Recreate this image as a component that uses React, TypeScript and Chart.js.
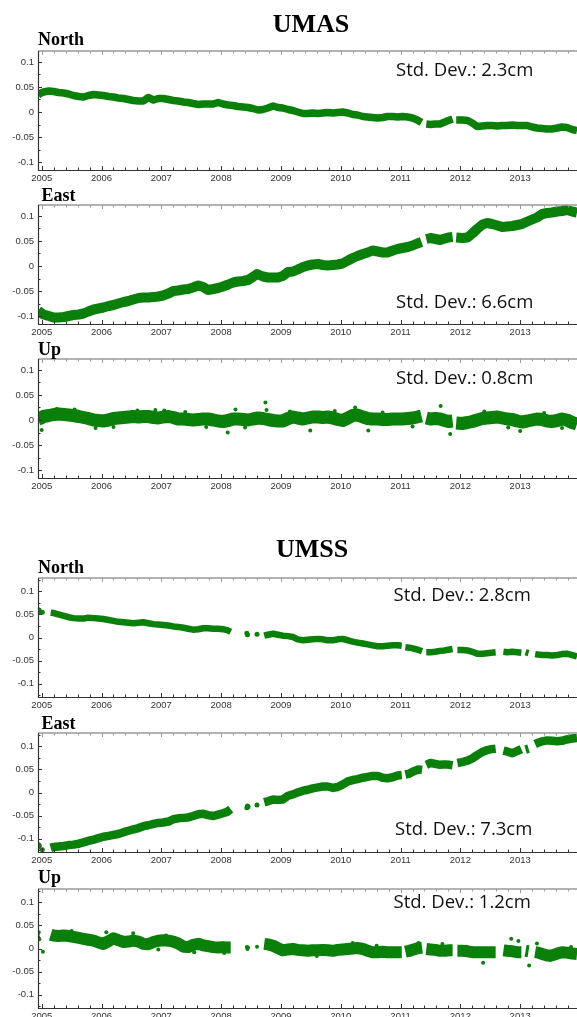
import React, { useEffect, useRef } from 'react';
import { Chart, registerables } from 'chart.js';
Chart.register(...registerables);

type Pt = [number, number | null];

const X_TICKS = [2005, 2006, 2007, 2008, 2009, 2010, 2011, 2012, 2013];
const Y_TICKS = [-0.1, -0.05, 0, 0.05, 0.1];
const Y_TICK_LABELS = ['-0.1', '-0.05', '0', '0.05', '0.1'];
const X_MIN = 2004.938;
const X_MAX = 2013.95;

const UMAS_NORTH: Pt[] = [
  [2004.94, 0.034], [2004.99, 0.038], [2005.03, 0.040], [2005.12, 0.042], [2005.20, 0.041], [2005.28, 0.039], [2005.37, 0.038], [2005.45, 0.036], [2005.53, 0.033], [2005.62, 0.031], [2005.70, 0.030], [2005.78, 0.033], [2005.87, 0.035], [2005.95, 0.034],
  [2006.03, 0.033], [2006.12, 0.031], [2006.20, 0.030], [2006.28, 0.028], [2006.37, 0.027], [2006.45, 0.025], [2006.53, 0.023], [2006.62, 0.022], [2006.70, 0.022], [2006.78, 0.029], [2006.87, 0.024], [2006.95, 0.027],
  [2007.03, 0.027], [2007.12, 0.025], [2007.20, 0.023], [2007.28, 0.022], [2007.37, 0.020], [2007.45, 0.019], [2007.53, 0.017], [2007.62, 0.015], [2007.70, 0.016], [2007.78, 0.016], [2007.87, 0.016], [2007.95, 0.019],
  [2008.03, 0.016], [2008.12, 0.014], [2008.20, 0.013], [2008.28, 0.011], [2008.37, 0.010], [2008.45, 0.009], [2008.53, 0.007], [2008.62, 0.004], [2008.70, 0.005], [2008.78, 0.008], [2008.87, 0.012], [2008.95, 0.009],
  [2009.03, 0.008], [2009.12, 0.005], [2009.20, 0.003], [2009.28, 0.000], [2009.37, -0.003], [2009.45, -0.003], [2009.53, -0.002], [2009.62, -0.003], [2009.70, -0.002], [2009.78, -0.001], [2009.87, -0.002], [2009.95, -0.001],
  [2010.03, 0.000], [2010.12, -0.002], [2010.20, -0.005], [2010.28, -0.006], [2010.37, -0.009], [2010.45, -0.010], [2010.53, -0.011], [2010.62, -0.012], [2010.70, -0.011], [2010.78, -0.009], [2010.87, -0.009], [2010.95, -0.010],
  [2011.03, -0.009], [2011.12, -0.010], [2011.20, -0.012], [2011.28, -0.016], [2011.35, -0.021], [2011.37, null], [2011.43, -0.024], [2011.50, -0.025], [2011.58, -0.024], [2011.66, -0.024], [2011.74, -0.020], [2011.80, -0.017], [2011.87, -0.014], [2011.89, null], [2011.93, -0.016],
  [2012.03, -0.016], [2012.12, -0.017], [2012.20, -0.022], [2012.28, -0.029], [2012.37, -0.028], [2012.45, -0.027], [2012.53, -0.027], [2012.62, -0.028], [2012.70, -0.027], [2012.78, -0.027], [2012.87, -0.026], [2012.95, -0.027],
  [2013.03, -0.027], [2013.12, -0.027], [2013.20, -0.030], [2013.28, -0.032], [2013.37, -0.033], [2013.45, -0.034], [2013.53, -0.034], [2013.62, -0.032], [2013.70, -0.030], [2013.78, -0.031], [2013.87, -0.035], [2013.95, -0.037],
];

const UMAS_EAST: Pt[] = [
  [2004.94, -0.090], [2004.99, -0.094], [2005.03, -0.097], [2005.12, -0.100], [2005.20, -0.103], [2005.28, -0.103], [2005.37, -0.102], [2005.45, -0.100], [2005.53, -0.098], [2005.62, -0.097], [2005.70, -0.095], [2005.78, -0.091], [2005.87, -0.087], [2005.95, -0.085],
  [2006.03, -0.083], [2006.12, -0.080], [2006.20, -0.078], [2006.28, -0.075], [2006.37, -0.072], [2006.45, -0.070], [2006.53, -0.067], [2006.62, -0.064], [2006.70, -0.063], [2006.78, -0.063], [2006.87, -0.062], [2006.95, -0.061],
  [2007.03, -0.059], [2007.12, -0.055], [2007.20, -0.050], [2007.28, -0.049], [2007.37, -0.047], [2007.45, -0.046], [2007.53, -0.043], [2007.62, -0.039], [2007.70, -0.042], [2007.78, -0.048], [2007.87, -0.046], [2007.95, -0.044],
  [2008.03, -0.041], [2008.12, -0.037], [2008.20, -0.033], [2008.28, -0.031], [2008.37, -0.030], [2008.45, -0.028], [2008.53, -0.022], [2008.60, -0.016], [2008.70, -0.021], [2008.78, -0.023], [2008.87, -0.023], [2008.95, -0.023],
  [2009.03, -0.020], [2009.12, -0.012], [2009.20, -0.011], [2009.28, -0.007], [2009.37, -0.002], [2009.45, 0.001], [2009.53, 0.003], [2009.62, 0.004], [2009.70, 0.002], [2009.78, 0.001], [2009.87, 0.002], [2009.95, 0.003],
  [2010.03, 0.005], [2010.12, 0.011], [2010.20, 0.016], [2010.28, 0.020], [2010.37, 0.024], [2010.45, 0.027], [2010.53, 0.031], [2010.62, 0.029], [2010.70, 0.027], [2010.78, 0.027], [2010.87, 0.031], [2010.95, 0.034],
  [2011.03, 0.036], [2011.12, 0.038], [2011.20, 0.041], [2011.28, 0.045], [2011.35, 0.048], [2011.37, null], [2011.43, 0.054], [2011.50, 0.056], [2011.58, 0.054], [2011.66, 0.052], [2011.74, 0.055], [2011.80, 0.057], [2011.87, 0.058], [2011.89, null], [2011.93, 0.057],
  [2012.03, 0.056], [2012.12, 0.057], [2012.20, 0.065], [2012.28, 0.074], [2012.37, 0.083], [2012.45, 0.086], [2012.53, 0.084], [2012.62, 0.081], [2012.70, 0.078], [2012.78, 0.079], [2012.87, 0.080], [2012.95, 0.082],
  [2013.03, 0.084], [2013.12, 0.089], [2013.20, 0.093], [2013.28, 0.097], [2013.37, 0.104], [2013.45, 0.106], [2013.53, 0.107], [2013.62, 0.109], [2013.70, 0.110], [2013.78, 0.112], [2013.87, 0.109], [2013.95, 0.107],
];

const UMAS_UP: Pt[] = [
  [2004.94, 0.002], [2004.99, 0.004], [2005.03, 0.007], [2005.12, 0.009], [2005.20, 0.011], [2005.28, 0.012], [2005.37, 0.011], [2005.45, 0.010], [2005.53, 0.009], [2005.62, 0.007], [2005.70, 0.005], [2005.78, 0.003], [2005.87, 0.000], [2005.95, -0.001],
  [2006.03, -0.002], [2006.12, 0.000], [2006.20, 0.003], [2006.28, 0.004], [2006.37, 0.005], [2006.45, 0.006], [2006.53, 0.007], [2006.62, 0.006], [2006.70, 0.007], [2006.78, 0.007], [2006.87, 0.005], [2006.95, 0.004],
  [2007.03, 0.006], [2007.12, 0.007], [2007.20, 0.005], [2007.28, 0.002], [2007.37, 0.002], [2007.45, 0.001], [2007.53, 0.000], [2007.62, 0.001], [2007.70, 0.002], [2007.78, 0.002], [2007.87, 0.000], [2007.95, -0.002],
  [2008.03, -0.003], [2008.12, -0.001], [2008.20, 0.002], [2008.28, 0.002], [2008.37, 0.001], [2008.45, 0.000], [2008.53, 0.002], [2008.62, 0.004], [2008.70, 0.003], [2008.78, 0.001], [2008.87, -0.001], [2008.95, -0.002],
  [2009.03, -0.002], [2009.12, 0.003], [2009.20, 0.006], [2009.28, 0.004], [2009.37, 0.002], [2009.45, 0.004], [2009.53, 0.006], [2009.62, 0.006], [2009.70, 0.005], [2009.78, 0.006], [2009.87, 0.004], [2009.95, 0.001],
  [2010.03, -0.001], [2010.12, 0.004], [2010.20, 0.009], [2010.28, 0.010], [2010.37, 0.006], [2010.45, 0.003], [2010.53, 0.002], [2010.62, 0.002], [2010.70, 0.001], [2010.78, 0.001], [2010.87, 0.002], [2010.95, 0.002],
  [2011.03, 0.002], [2011.12, 0.003], [2011.20, 0.004], [2011.28, 0.006], [2011.35, 0.008], [2011.37, null], [2011.43, 0.004], [2011.50, 0.002], [2011.58, 0.003], [2011.66, 0.002], [2011.74, -0.001], [2011.80, -0.003], [2011.87, -0.002], [2011.89, null], [2011.93, -0.006],
  [2012.03, -0.007], [2012.12, -0.005], [2012.20, -0.003], [2012.28, 0.000], [2012.37, 0.003], [2012.45, 0.004], [2012.53, 0.005], [2012.62, 0.006], [2012.70, 0.004], [2012.78, 0.002], [2012.87, 0.001], [2012.95, -0.002],
  [2013.03, -0.004], [2013.12, -0.002], [2013.20, 0.000], [2013.28, 0.002], [2013.37, 0.001], [2013.45, -0.002], [2013.53, -0.003], [2013.62, -0.001], [2013.70, 0.002], [2013.78, 0.000], [2013.87, -0.005], [2013.95, -0.008],
];
const UMAS_UP_OUTLIERS: Pt[] = [
  [2008.74, 0.035], [2008.11, -0.025], [2008.24, 0.021], [2008.76, 0.020], [2011.67, 0.028], [2011.83, -0.028],
  [2009.49, -0.021], [2010.46, -0.021], [2010.24, 0.025], [2013.0, -0.022], [2005.0, -0.020], [2005.55, 0.021],
  [2006.6, 0.019], [2007.05, 0.019], [2007.75, -0.014], [2005.9, -0.016], [2006.9, 0.020], [2009.9, 0.018],
  [2005.25, 0.022], [2006.2, -0.014], [2007.4, 0.016], [2008.4, -0.015], [2009.15, 0.017], [2010.7, 0.015],
  [2011.2, -0.013], [2012.4, 0.017], [2012.8, -0.015], [2013.4, 0.014], [2013.7, -0.016],
];

const UMSS_NORTH: Pt[] = [
  [2005.15, 0.054], [2005.20, 0.053], [2005.28, 0.050], [2005.37, 0.047], [2005.45, 0.044], [2005.53, 0.042], [2005.62, 0.041], [2005.70, 0.041], [2005.78, 0.043], [2005.87, 0.042], [2005.95, 0.041],
  [2006.03, 0.040], [2006.12, 0.038], [2006.20, 0.036], [2006.28, 0.034], [2006.37, 0.033], [2006.45, 0.032], [2006.53, 0.031], [2006.62, 0.032], [2006.70, 0.033], [2006.78, 0.031], [2006.87, 0.029], [2006.95, 0.028],
  [2007.03, 0.027], [2007.12, 0.026], [2007.20, 0.024], [2007.28, 0.023], [2007.37, 0.021], [2007.45, 0.019], [2007.53, 0.017], [2007.62, 0.018], [2007.70, 0.020], [2007.78, 0.020], [2007.87, 0.019], [2007.95, 0.019],
  [2008.03, 0.018], [2008.10, 0.016], [2008.16, 0.012], [2008.20, null],
  [2008.72, 0.004], [2008.78, 0.006], [2008.87, 0.008], [2008.95, 0.006],
  [2009.03, 0.004], [2009.12, 0.003], [2009.20, 0.001], [2009.28, -0.004], [2009.37, -0.006], [2009.45, -0.005], [2009.53, -0.004], [2009.62, -0.003], [2009.70, -0.004], [2009.78, -0.006], [2009.87, -0.006], [2009.95, -0.004],
  [2010.03, -0.003], [2010.12, -0.006], [2010.20, -0.009], [2010.28, -0.011], [2010.37, -0.013], [2010.45, -0.015], [2010.53, -0.017], [2010.62, -0.019], [2010.70, -0.019], [2010.78, -0.018], [2010.87, -0.017], [2010.95, -0.017],
  [2011.02, -0.018], [2011.05, null], [2011.08, -0.021], [2011.15, -0.022], [2011.22, -0.024], [2011.30, -0.027], [2011.36, -0.030], [2011.39, null], [2011.43, -0.032], [2011.50, -0.032], [2011.58, -0.031], [2011.66, -0.029], [2011.74, -0.028], [2011.82, -0.026], [2011.87, -0.025], [2011.89, null], [2011.95, -0.027],
  [2012.03, -0.027], [2012.12, -0.028], [2012.20, -0.031], [2012.28, -0.035], [2012.37, -0.035], [2012.45, -0.034], [2012.52, -0.033], [2012.59, -0.032], [2012.65, null], [2012.72, -0.031], [2012.78, -0.032], [2012.87, -0.031], [2012.95, -0.032],
  [2013.02, -0.033], [2013.06, null], [2013.09, -0.032], [2013.14, -0.034], [2013.20, null], [2013.25, -0.036], [2013.30, -0.037], [2013.37, -0.038], [2013.45, -0.038], [2013.53, -0.039], [2013.62, -0.038], [2013.70, -0.036], [2013.78, -0.035], [2013.87, -0.038], [2013.95, -0.041],
];
const UMSS_NORTH_ISOLATED: Pt[] = [
  [2004.94, 0.060], [2004.95, 0.056], [2004.96, 0.059], [2005.01, 0.055], [2008.43, 0.009], [2008.44, 0.006], [2008.60, 0.007],
];

const UMSS_EAST: Pt[] = [
  [2005.15, -0.120], [2005.20, -0.118], [2005.28, -0.117], [2005.37, -0.116], [2005.45, -0.114], [2005.53, -0.113], [2005.62, -0.111], [2005.70, -0.108], [2005.78, -0.105], [2005.87, -0.102], [2005.95, -0.099],
  [2006.03, -0.096], [2006.12, -0.094], [2006.20, -0.092], [2006.28, -0.090], [2006.37, -0.086], [2006.45, -0.083], [2006.53, -0.080], [2006.62, -0.077], [2006.70, -0.073], [2006.78, -0.071], [2006.87, -0.068], [2006.95, -0.066],
  [2007.03, -0.065], [2007.12, -0.063], [2007.20, -0.058], [2007.28, -0.056], [2007.37, -0.055], [2007.45, -0.054], [2007.53, -0.051], [2007.62, -0.047], [2007.70, -0.046], [2007.78, -0.049], [2007.87, -0.051], [2007.95, -0.048],
  [2008.03, -0.045], [2008.10, -0.042], [2008.16, -0.036], [2008.20, null],
  [2008.72, -0.021], [2008.78, -0.019], [2008.87, -0.015], [2008.95, -0.016],
  [2009.03, -0.015], [2009.12, -0.007], [2009.20, -0.004], [2009.28, 0.000], [2009.37, 0.004], [2009.45, 0.006], [2009.53, 0.009], [2009.62, 0.011], [2009.70, 0.013], [2009.78, 0.013], [2009.87, 0.010], [2009.95, 0.012],
  [2010.03, 0.017], [2010.12, 0.024], [2010.20, 0.027], [2010.28, 0.029], [2010.37, 0.032], [2010.45, 0.034], [2010.53, 0.036], [2010.62, 0.036], [2010.70, 0.032], [2010.78, 0.031], [2010.87, 0.033], [2010.95, 0.037],
  [2011.02, 0.038], [2011.05, null], [2011.08, 0.039], [2011.15, 0.041], [2011.22, 0.046], [2011.30, 0.050], [2011.36, 0.049], [2011.39, null], [2011.43, 0.060], [2011.50, 0.064], [2011.58, 0.062], [2011.66, 0.060], [2011.74, 0.061], [2011.82, 0.060], [2011.87, 0.059], [2011.89, null], [2011.95, 0.064],
  [2012.03, 0.066], [2012.12, 0.069], [2012.20, 0.074], [2012.28, 0.081], [2012.37, 0.088], [2012.45, 0.092], [2012.52, 0.094], [2012.59, 0.095], [2012.65, null], [2012.72, 0.091], [2012.78, 0.089], [2012.87, 0.085], [2012.95, 0.090],
  [2013.02, 0.094], [2013.06, null], [2013.09, 0.093], [2013.14, 0.095], [2013.20, null], [2013.25, 0.105], [2013.30, 0.108], [2013.37, 0.111], [2013.45, 0.113], [2013.53, 0.112], [2013.62, 0.111], [2013.70, 0.112], [2013.78, 0.115], [2013.87, 0.117], [2013.95, 0.118],
];
const UMSS_EAST_ISOLATED: Pt[] = [
  [2004.94, -0.113], [2004.95, -0.118], [2004.96, -0.115], [2005.01, -0.124], [2008.43, -0.033], [2008.44, -0.029], [2008.45, -0.031], [2008.60, -0.027],
];

const UMSS_UP: Pt[] = [
  [2005.15, 0.030], [2005.20, 0.028], [2005.28, 0.027], [2005.37, 0.028], [2005.45, 0.027], [2005.53, 0.025], [2005.62, 0.023], [2005.70, 0.021], [2005.78, 0.019], [2005.87, 0.017], [2005.95, 0.013],
  [2006.03, 0.010], [2006.12, 0.016], [2006.20, 0.022], [2006.28, 0.018], [2006.37, 0.014], [2006.45, 0.015], [2006.53, 0.017], [2006.62, 0.015], [2006.70, 0.010], [2006.78, 0.009], [2006.87, 0.014], [2006.95, 0.017],
  [2007.03, 0.018], [2007.12, 0.017], [2007.20, 0.015], [2007.28, 0.011], [2007.37, 0.004], [2007.45, 0.003], [2007.53, 0.008], [2007.62, 0.010], [2007.70, 0.007], [2007.78, 0.005], [2007.87, 0.003], [2007.95, 0.002],
  [2008.03, 0.003], [2008.10, 0.002], [2008.16, 0.002], [2008.20, null],
  [2008.72, 0.010], [2008.78, 0.009], [2008.87, 0.006], [2008.95, 0.001],
  [2009.03, -0.004], [2009.12, -0.002], [2009.20, -0.001], [2009.28, -0.003], [2009.37, -0.004], [2009.45, -0.005], [2009.53, -0.004], [2009.62, -0.004], [2009.70, -0.003], [2009.78, -0.004], [2009.87, -0.005], [2009.95, -0.003],
  [2010.03, -0.002], [2010.12, -0.001], [2010.20, 0.000], [2010.28, 0.001], [2010.37, -0.001], [2010.45, -0.005], [2010.53, -0.008], [2010.62, -0.008], [2010.70, -0.007], [2010.78, -0.008], [2010.87, -0.008], [2010.95, -0.008],
  [2011.02, -0.008], [2011.05, null], [2011.08, -0.007], [2011.15, -0.005], [2011.22, -0.002], [2011.30, 0.001], [2011.36, 0.002], [2011.39, null], [2011.43, -0.001], [2011.50, -0.002], [2011.58, -0.003], [2011.66, -0.005], [2011.74, -0.005], [2011.82, -0.004], [2011.87, -0.004], [2011.89, null], [2011.95, -0.005],
  [2012.03, -0.005], [2012.12, -0.006], [2012.20, -0.008], [2012.28, -0.008], [2012.37, -0.008], [2012.45, -0.008], [2012.52, -0.008], [2012.59, -0.008], [2012.65, null], [2012.72, -0.004], [2012.78, -0.005], [2012.87, -0.006], [2012.95, -0.008],
  [2013.02, -0.008], [2013.06, null], [2013.09, -0.005], [2013.14, -0.006], [2013.20, null], [2013.25, -0.008], [2013.30, -0.009], [2013.37, -0.012], [2013.45, -0.015], [2013.53, -0.015], [2013.62, -0.011], [2013.70, -0.008], [2013.78, -0.009], [2013.87, -0.011], [2013.95, -0.012],
];
const UMSS_UP_ISOLATED: Pt[] = [
  [2004.93, 0.031], [2004.94, 0.025], [2004.95, 0.035], [2004.96, 0.020], [2005.02, -0.007],
  [2008.43, 0.003], [2008.44, -0.001], [2008.45, 0.002], [2008.60, 0.004],
  [2012.85, 0.021], [2012.38, -0.031], [2013.15, -0.037], [2012.97, 0.016], [2013.28, 0.011],
  [2006.08, 0.035], [2006.53, 0.033], [2008.80, 0.016], [2007.08, 0.028], [2010.2, 0.012],
  [2005.5, 0.038], [2006.95, -0.002], [2007.55, -0.008], [2008.05, -0.010], [2009.6, -0.016], [2010.6, 0.006],
  [2011.3, 0.012], [2011.7, 0.010], [2012.1, 0.004], [2013.5, -0.025], [2013.85, 0.003],
];

const STATIONS = ['UMAS', 'UMSS'];
const COMPONENTS = ['North', 'East', 'Up'];
const STD_DEV = ['2.3cm', '6.6cm', '0.8cm', '2.8cm', '7.3cm', '1.2cm'];

const GREEN = '#0a7f0a';
const PAD_TOP = 3;
const AXIS_H = 16;
const Y_AXIS_W = 38;
const CANVAS_W = 577;

type PanelCfg = {
  line: Pt[];
  points: Pt[];
  top: number;
  bottom: number;
  ymin: number;
  ymax: number;
  lw: number;
  pr: number;
};

const PANELS: PanelCfg[] = [
  { line: UMAS_NORTH, points: [], top: 51, bottom: 169.5, ymin: -0.116, ymax: 0.122, lw: 7.5, pr: 2 },
  { line: UMAS_EAST, points: [], top: 205, bottom: 323.5, ymin: -0.116, ymax: 0.122, lw: 10, pr: 2 },
  { line: UMAS_UP, points: UMAS_UP_OUTLIERS, top: 359, bottom: 477.5, ymin: -0.116, ymax: 0.122, lw: 13, pr: 2 },
  { line: UMSS_NORTH, points: UMSS_NORTH_ISOLATED, top: 578, bottom: 697, ymin: -0.129, ymax: 0.129, lw: 6.5, pr: 2.5 },
  { line: UMSS_EAST, points: UMSS_EAST_ISOLATED, top: 732.5, bottom: 851.5, ymin: -0.129, ymax: 0.129, lw: 8.5, pr: 2.5 },
  { line: UMSS_UP, points: UMSS_UP_ISOLATED, top: 889, bottom: 1008, ymin: -0.129, ymax: 0.129, lw: 12, pr: 2 },
];

const framePlugin = {
  id: 'frame',
  afterDraw(chart: any) {
    const ctx = chart.ctx as CanvasRenderingContext2D;
    const { left, right, top, bottom } = chart.chartArea;
    const xs = chart.scales.x;
    const ys = chart.scales.y;
    ctx.save();
    ctx.strokeStyle = '#9a9a9a';
    ctx.lineWidth = 1.5;
    ctx.beginPath();
    ctx.moveTo(left, top);
    ctx.lineTo(right, top);
    ctx.stroke();
    ctx.lineWidth = 1;
    for (let k = 0; k <= 45; k++) {
      const v = 2005 + k * 0.2;
      const px = Math.round(xs.getPixelForValue(v)) + 0.5;
      if (px < left || px > right) continue;
      const len = k % 5 === 0 ? 4 : 2.5;
      ctx.beginPath();
      ctx.moveTo(px, top);
      ctx.lineTo(px, top + len);
      ctx.stroke();
    }
    ctx.strokeStyle = '#333';
    ctx.lineWidth = 1.2;
    ctx.beginPath();
    ctx.moveTo(left + 0.5, top);
    ctx.lineTo(left + 0.5, bottom + 0.5);
    ctx.lineTo(right, bottom + 0.5);
    ctx.stroke();
    ctx.lineWidth = 1;
    for (let k = 0; k <= 45; k++) {
      const v = 2005 + k * 0.2;
      const px = Math.round(xs.getPixelForValue(v)) + 0.5;
      if (px < left || px > right) continue;
      const len = k % 5 === 0 ? 4 : 2.5;
      ctx.beginPath();
      ctx.moveTo(px, bottom);
      ctx.lineTo(px, bottom - len);
      ctx.stroke();
    }
    for (let k = -5; k <= 5; k++) {
      const v = k * 0.025;
      if (v < ys.min || v > ys.max) continue;
      const py = Math.round(ys.getPixelForValue(v)) + 0.5;
      const len = k % 2 === 0 ? 4 : 2.5;
      ctx.beginPath();
      ctx.moveTo(left, py);
      ctx.lineTo(left + len, py);
      ctx.stroke();
    }
    ctx.restore();
  },
};

function Panel({ cfg }: { cfg: PanelCfg }) {
  const ref = useRef<HTMLCanvasElement>(null);
  const h = Math.round(cfg.bottom - cfg.top + PAD_TOP + AXIS_H);
  useEffect(() => {
    const tickFont = { family: '"Liberation Sans", Arial, sans-serif', size: 9.5 };
    const chart = new Chart(ref.current as HTMLCanvasElement, {
      type: 'line',
      data: {
        datasets: [
          {
            data: cfg.line as any,
            borderColor: GREEN,
            backgroundColor: GREEN,
            borderWidth: cfg.lw,
            pointRadius: 0,
            tension: 0,
            spanGaps: false,
            borderJoinStyle: 'round',
            borderCapStyle: 'butt',
            clip: 0,
          } as any,
          {
            type: 'scatter',
            data: cfg.points as any,
            backgroundColor: GREEN,
            borderColor: GREEN,
            borderWidth: 0,
            pointRadius: cfg.pr,
            showLine: false,
            clip: 0,
          } as any,
        ],
      },
      options: {
        responsive: false,
        animation: false,
        events: [],
        layout: { autoPadding: false, padding: { top: PAD_TOP, left: 0, right: 0, bottom: 0 } },
        plugins: { legend: { display: false }, tooltip: { enabled: false } },
        scales: {
          x: {
            type: 'linear',
            min: X_MIN,
            max: X_MAX,
            grid: { display: false, drawTicks: false },
            border: { display: false },
            afterBuildTicks: (s: any) => {
              s.ticks = X_TICKS.map((v) => ({ value: v }));
            },
            afterFit: (s: any) => {
              s.height = AXIS_H;
              s.paddingLeft = 0;
              s.paddingRight = 0;
              s.paddingTop = 0;
              s.paddingBottom = 0;
            },
            ticks: {
              autoSkip: false,
              maxRotation: 0,
              minRotation: 0,
              padding: 3,
              color: '#333',
              font: tickFont,
              callback: (v: any) => String(v),
            },
          },
          y: {
            type: 'linear',
            min: cfg.ymin,
            max: cfg.ymax,
            grid: { display: false, drawTicks: false },
            border: { display: false },
            afterBuildTicks: (s: any) => {
              s.ticks = Y_TICKS.map((v) => ({ value: v }));
            },
            afterFit: (s: any) => {
              s.width = Y_AXIS_W;
              s.paddingLeft = 0;
              s.paddingRight = 0;
              s.paddingTop = 0;
              s.paddingBottom = 0;
            },
            ticks: {
              autoSkip: false,
              padding: 4,
              color: '#333',
              font: tickFont,
              callback: (v: any) => {
                const i = Y_TICKS.findIndex((t) => Math.abs(t - Number(v)) < 1e-9);
                return i >= 0 ? Y_TICK_LABELS[i] : '';
              },
            },
          },
        },
      } as any,
      plugins: [framePlugin],
    });
    return () => chart.destroy();
  }, []);
  return (
    <canvas
      ref={ref}
      width={CANVAS_W}
      height={h}
      style={{ position: 'absolute', left: 0, top: cfg.top - PAD_TOP, width: CANVAS_W, height: h, display: 'block' }}
    />
  );
}

const TITLE_POS = [
  { x: 311, y: 31.5 },
  { x: 312, y: 557 },
];
const SUB_POS = [
  { x: 38, y: 45 }, { x: 41.5, y: 200.5 }, { x: 38, y: 355 },
  { x: 38, y: 572.5 }, { x: 41.5, y: 729 }, { x: 38, y: 882.5 },
];
const STD_POS = [
  { x: 396, y: 76 }, { x: 396, y: 307.5 }, { x: 396, y: 383.5 },
  { x: 393.5, y: 600.5 }, { x: 395, y: 835 }, { x: 393.5, y: 908 },
];

export default function App() {
  return (
    <div style={{ position: 'absolute', left: 0, top: 0, width: 577, height: 1017, overflow: 'hidden', background: '#fff' }}>
      {PANELS.map((p, i) => (
        <Panel key={i} cfg={p} />
      ))}
      <svg width={577} height={1017} style={{ position: 'absolute', left: 0, top: 0, pointerEvents: 'none' }}>
        {STATIONS.map((s, i) => (
          <text key={'t' + i} x={TITLE_POS[i].x} y={TITLE_POS[i].y} textAnchor="middle"
            style={{ fontFamily: '"Liberation Serif", "Times New Roman", serif', fontWeight: 'bold', fontSize: 26 }} fill="#000">
            {s}
          </text>
        ))}
        {SUB_POS.map((p, i) => (
          <text key={'s' + i} x={p.x} y={p.y}
            style={{ fontFamily: '"Liberation Serif", "Times New Roman", serif', fontWeight: 'bold', fontSize: 18 }} fill="#000">
            {COMPONENTS[i % 3]}
          </text>
        ))}
        {STD_POS.map((p, i) => (
          <text key={'d' + i} x={p.x} y={p.y}
            style={{ fontFamily: '"Open Sans", "Noto Sans", sans-serif', fontSize: 18.5 }} fill="#111">
            {'Std. Dev.: ' + STD_DEV[i]}
          </text>
        ))}
      </svg>
    </div>
  );
}
